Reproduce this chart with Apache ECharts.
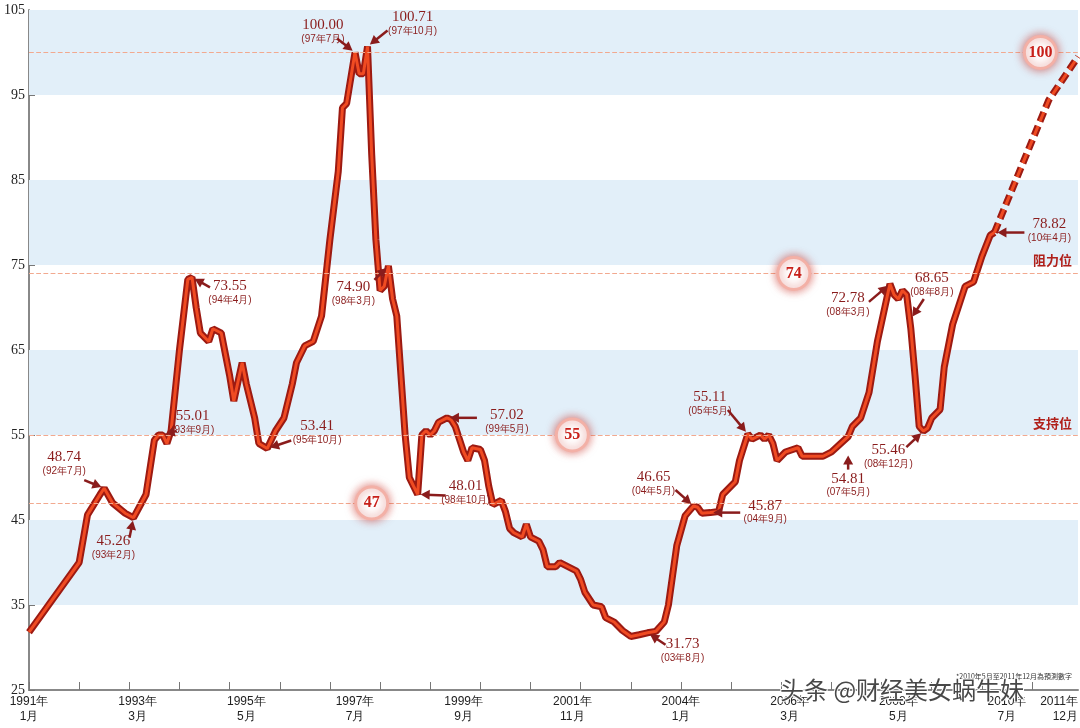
<!DOCTYPE html>
<html><head><meta charset="utf-8">
<script src="https://cdn.jsdelivr.net/npm/echarts@6/dist/echarts.min.js"></script>
<style>html,body{margin:0;padding:0;background:#fff}#c{width:1080px;height:728px}</style>
</head><body><div id="c"></div>
<script>
// months since 1991-01
const months = [0,12,14,17,18,20,23,25,28,30,31,32,33,34,36,38,39,40,41,43,44,46,48,49,51,52,54,55,57,59,61,63,64,66,68,70,72,74,75,76,78,79,80,81,82,83,84,85,86,87,88,89,90,91,92,93,94,95,96,97,98,100,101,102,103,104,105,106,108,109,110,111,113,114,115,116,118,119,120,122,123,124,126,127,129,131,132,133,135,137,138,140,142,144,146,148,150,152,153,155,157,159,160,161,163,165,166,168,169,170,172,173,175,176,177,178,179,181,184,185,190,192,196,197,199,201,203,206,207,208,209,210,211,212,213,214,215,216,218,219,221,224,226,228,230,231];
const values = [31.8,40,45.6,48,48.74,47,45.8,45.26,48,54.4,55,55.01,54,55.5,65,73.3,73.55,70,67,66,67.5,67,62,59,63.5,61,57,54,53.41,55.5,57,61,63.5,65.5,66,69,78,86,93.5,94,100,97.5,97.5,100.71,88,78,72,72.5,74.9,71,69,62,55,50,49,48.01,55,55.5,55,55.5,56.5,57.02,56.8,56,54.5,53,52,53.5,53.3,52,49,46.8,47.3,46,44,43.5,43,44.5,43,42.5,41.5,39.5,39.5,40,39.5,39,38,36.5,35,34.8,33.5,33,32,31.3,31.5,31.73,31.9,33,35,42,45.5,46.65,46.5,45.8,45.87,46,48,49,49.5,52,55.11,54.5,55,54.5,55,54,52,53,53.5,52.5,52.5,53,54.81,56,57,60,66,72.78,71.5,71,72,71.5,67.5,62,56,55.46,55.8,57,58,63,68,72.5,73,76,78.5,78.82];
const fcMonths = [231,244,251];
const fcValues = [78.82,94.4,99.5];
const tickMonths = [0,26,52,78,104,130,156,182,208,234,251];
const tickLabels = ['1991年\n1月','1993年\n3月','1995年\n5月','1997年\n7月','1999年\n9月','2001年\n11月','2004年\n1月','2006年\n3月','2008年\n5月','2010年\n7月','2011年\n12月'];
const levels = [100,74,55,47];
const badgeMonths = [242,183,130,82];
// annotations: month, value, text, date
const annMonth = [18,25,32,39,57,78,81,86,93,100,148,159,163,172,196,206,211,214,231];
const annValue = [48.74,45.26,55.01,73.55,53.41,100.00,100.71,74.90,48.01,57.02,31.73,46.65,45.87,55.11,54.81,72.78,68.65,55.46,78.82];
const annDate = ['(92年7月)','(93年2月)','(93年9月)','(94年4月)','(95年10月)','(97年7月)','(97年10月)','(98年3月)','(98年10月)','(99年5月)','(03年8月)','(04年5月)','(04年9月)','(05年5月)','(07年5月)','(08年3月)','(08年8月)','(08年12月)','(10年4月)'];
// label offsets (px) [dx,dy], arrow tail offsets, arrow tip offsets
const annOff = [[-40,-24],[-20,30],[30,-12],[38,16],[50,-15],[-32,-20],[45,-22],[-35,28],[48,-1],[60,4],[35,18],[-40,-22],[55,0],[-38,-30],[0,49],[-42,21],[21,-34],[-35,26],[55,-1]];
const tailOff = [[-20,-8],[-4,20],[14,-4],[18,10],[24,-8],[-18,-14],[20,-16],[-14,14],[28,1],[30,0],[18,12],[-18,-16],[30,0],[-20,-24],[0,33],[-21,18],[13,-20],[-17,16],[30,0]];
const tipOff = [[0,0],[0,0],[0,0],[0,0],[0,0],[0,0],[0,0],[0,0],[0,0],[0,0],[0,0],[0,0],[0,0],[0,0],[0,16],[0,0],[0,0],[0,0],[0,0]];

const bandColor = '#e2eff9';
const bands = [];
for (let v=35; v<105; v+=20) bands.push([{yAxis:v+0,itemStyle:{color:bandColor}},{yAxis:v+10}]);
bands.unshift([{yAxis:95,itemStyle:{color:bandColor}},{yAxis:105}]);

const chart = echarts.init(document.getElementById('c'));
const main = months.map((m,i)=>[m,values[i]]);
const fc = fcMonths.map((m,i)=>[m,fcValues[i]]);
const serif = 'Liberation Serif, DejaVu Serif, serif';
chart.setOption({
  animation:false,
  grid:{left:29,right:2,top:10,bottom:38,outerBoundsMode:'none',containLabel:false},
  xAxis:{type:'value',min:0,max:251,
    axisLine:{lineStyle:{color:'#888',width:2}},
    axisTick:{customValues:[0,12,24,36,48,60,72,84,96,108,120,132,144,156,168,180,192,204,216,228,240],inside:true,length:8,lineStyle:{color:'#777'}},
    axisLabel:{customValues:tickMonths,formatter:v=>tickLabels[tickMonths.indexOf(v)]||'',color:'#222',fontSize:12,lineHeight:15,fontFamily:'Liberation Sans Narrow, Liberation Sans, sans-serif',margin:4,alignMaxLabel:'right',alignMinLabel:'center'},
    splitLine:{show:false}},
  yAxis:{type:'value',min:25,max:105,interval:10,
    axisLine:{show:true,lineStyle:{color:'#888',width:2}},
    axisTick:{show:true,inside:true,length:6,lineStyle:{color:'#777'}},
    axisLabel:{color:'#222',fontSize:14,fontFamily:serif,margin:4},
    splitLine:{show:false}},
  series:[
    {type:'line',data:main,symbol:'none',lineStyle:{color:'#9c1a12',width:7},z:2,
      markArea:{silent:true,data:bands},
      markLine:{silent:true,symbol:'none',label:{show:false},lineStyle:{color:'#f2a98f',type:'dashed',width:1.2},data:levels.map(v=>({yAxis:v}))}},
    {type:'line',data:main,symbol:'none',lineStyle:{color:'#f04b22',width:3},z:3},
    {type:'line',data:fc,symbol:'none',lineStyle:{color:'#9c1a12',width:7,type:[10,5]},z:2},
    {type:'line',data:fc,symbol:'none',lineStyle:{color:'#f04b22',width:3,type:[10,5]},z:3}
  ]
});
const g = [];
const dark = '#8a1c1c';
annMonth.forEach((m,i)=>{
  const p0 = chart.convertToPixel({gridIndex:0},[m,annValue[i]]);
  const p = [p0[0]+tipOff[i][0], p0[1]+tipOff[i][1]];
  const lx=p0[0]+annOff[i][0], ly=p0[1]+annOff[i][1];
  const tx=p0[0]+tailOff[i][0], ty=p0[1]+tailOff[i][1];
  const dx=p[0]-tx, dy=p[1]-ty, L=Math.hypot(dx,dy)||1, ux=dx/L, uy=dy/L;
  const hx=p[0]-ux*3, hy=p[1]-uy*3;
  g.push({type:'line',shape:{x1:tx,y1:ty,x2:hx-ux*5,y2:hy-uy*5},style:{stroke:dark,lineWidth:2.5},z:10});
  g.push({type:'polygon',shape:{points:[[hx,hy],[hx-ux*9-uy*5,hy-uy*9+ux*5],[hx-ux*9+uy*5,hy-uy*9-ux*5]]},style:{fill:dark},z:10});
  g.push({type:'text',x:lx,y:ly-7,style:{text:annValue[i].toFixed(2),fill:dark,font:'15px '+serif,align:'center',verticalAlign:'middle'},z:11});
  g.push({type:'text',x:lx,y:ly+7,style:{text:annDate[i],fill:dark,font:'10px Liberation Sans, sans-serif',align:'center',verticalAlign:'middle'},z:11});
});
levels.forEach((v,i)=>{
  const p = chart.convertToPixel({gridIndex:0},[badgeMonths[i],v]);
  g.push({type:'circle',shape:{cx:p[0],cy:p[1],r:16},style:{fill:'#fff',stroke:'#f3b0a6',lineWidth:3,shadowBlur:10,shadowColor:'rgba(200,40,30,0.6)'},z:12});
  g.push({type:'text',x:p[0],y:p[1],style:{text:String(v),fill:'#c8201a',font:'bold 16px '+serif,align:'center',verticalAlign:'middle'},z:13});
});
const pr = chart.convertToPixel({gridIndex:0},[251,74]);
const ps = chart.convertToPixel({gridIndex:0},[251,55]);
g.push({type:'text',x:pr[0]-6,y:pr[1]-13,style:{text:'阻力位',fill:'#b0201a',font:'bold 13px Noto Sans CJK TC, sans-serif',align:'right',verticalAlign:'middle'},z:11});
g.push({type:'text',x:ps[0]-6,y:ps[1]-12,style:{text:'支持位',fill:'#b0201a',font:'bold 13px Noto Sans CJK TC, sans-serif',align:'right',verticalAlign:'middle'},z:11});
g.push({type:'text',x:1072,y:676,style:{text:'*2010年5月至2011年12月為預測數字',fill:'#333',font:'7px Noto Sans CJK TC, sans-serif',align:'right',verticalAlign:'middle'},z:11});
g.push({type:'text',x:780,y:690,style:{text:'头条 @财经美女蜗牛妹',fill:'rgba(40,40,40,0.85)',font:'24px Noto Sans CJK SC, sans-serif',stroke:'#fff',lineWidth:2,verticalAlign:'middle'},z:14});
chart.setOption({graphic:g});
</script></body></html>
